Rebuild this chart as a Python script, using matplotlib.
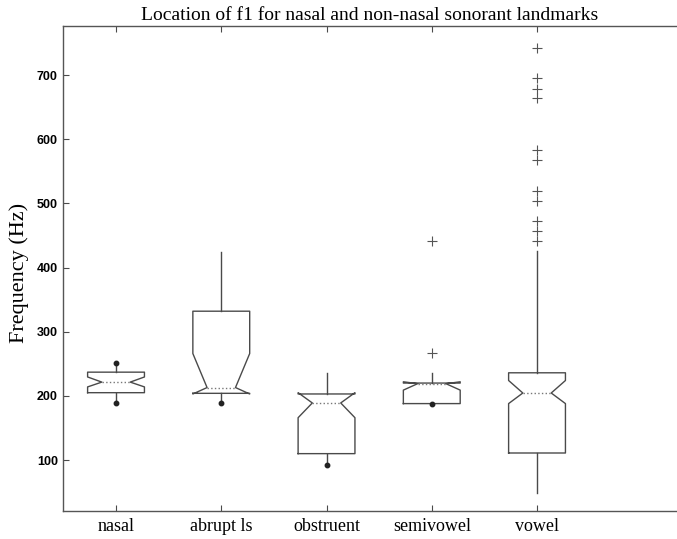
import matplotlib
matplotlib.use('Agg')
import matplotlib.pyplot as plt

# box summary values (Hz)
groups = ['nasal', 'abrupt ls', 'obstruent', 'semivowel', 'vowel']
q1 = [205, 204, 110, 188, 111]
med = [221.5, 213, 189, 219, 204.5]
q3 = [237, 332, 203, 220, 236]
ci_lo = [214, 203, 166, 209, 188]
ci_hi = [229.5, 266, 205, 222, 224]
whisk_lo = [189, 189, 93, 188, 49]
whisk_hi = [252, 425, 235, 235, 426]
outliers = [[], [], [], [267, 441],
            [742, 695, 679, 664, 584, 568, 520, 503, 473, 457, 442]]
# whisker ends drawn as a dot
end_dots = [[189, 252], [189], [93], [188], []]

serif = 'Liberation Serif'
sans = 'Liberation Sans'
line_col = '#4a4a4a'

fig = plt.figure(figsize=(6.77, 5.39), dpi=100)
# the scan cuts the axes off on the right, so let it run past the edge
ax = fig.add_axes([63.4 / 677, 28 / 539, 631.5 / 677, 485 / 539])

stats = []
for i in range(len(groups)):
    stats.append(dict(label=groups[i], med=med[i], q1=q1[i], q3=q3[i],
                      cilo=ci_lo[i], cihi=ci_hi[i],
                      whislo=whisk_lo[i], whishi=whisk_hi[i],
                      fliers=outliers[i]))

pos = list(range(1, len(groups) + 1))
ax.bxp(stats, positions=pos, widths=0.54, shownotches=True, showcaps=False,
       boxprops=dict(color=line_col, linewidth=1.0),
       whiskerprops=dict(color=line_col, linewidth=1.0, linestyle='-'),
       medianprops=dict(color='#777777', linewidth=1.0, linestyle=':'),
       flierprops=dict(marker='+', markersize=7, markeredgecolor='#555555',
                       markeredgewidth=0.8, linestyle='none'))

for p, vals in zip(pos, end_dots):
    if vals:
        ax.plot([p] * len(vals), vals, linestyle='none', marker='o',
                markersize=3.2, color='#222222')

ax.set_xlim(0.5, 6.5)
ax.set_ylim(20.6, 776.5)
ax.set_yticks([100, 200, 300, 400, 500, 600, 700])
ax.set_xticks(pos)
ax.set_xticklabels(groups, fontfamily=serif, fontsize=13)
for lab in ax.get_yticklabels():
    lab.set_fontfamily(sans)
    lab.set_fontweight('bold')
    lab.set_fontsize(9)

ax.tick_params(direction='in', top=True, right=True, length=4,
               color=line_col, width=0.8)
ax.tick_params(axis='x', pad=5)
ax.tick_params(axis='y', pad=4)
for s in ax.spines.values():
    s.set_color('#555555')
    s.set_linewidth(1.0)

ax.set_ylabel('Frequency (Hz)', fontfamily=serif, fontsize=16)
ax.yaxis.set_label_coords(-0.054, 0.49)
ax.set_title('Location of f1 for nasal and non-nasal sonorant landmarks',
             fontfamily=serif, fontsize=14, pad=4, x=0.4855)

fig.savefig('out.png', dpi=100)
